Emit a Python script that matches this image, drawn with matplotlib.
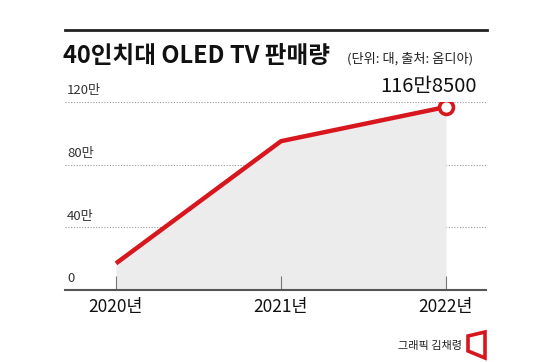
import matplotlib
matplotlib.use("Agg")
import matplotlib.pyplot as plt
from matplotlib.lines import Line2D
from matplotlib.patches import Polygon

plt.rcParams["font.family"] = ["Noto Sans CJK KR", "DejaVu Sans"]

# 데이터 (단위: 만 대)
years = ["2020년", "2021년", "2022년"]
sales = [17.0, 95.0, 116.85]
yticks = [0, 40, 80, 120]
ytick_labels = ["0", "40만", "80만", "120만"]
last_label = "116만8500"

W, H = 550, 362
fig = plt.figure(figsize=(W / 100, H / 100), dpi=100)
fig.patch.set_facecolor("white")

# 축 위치 (픽셀 기준)
left, right, bottom, top = 65, 486, 290, 102
ax = fig.add_axes([left / W, 1 - bottom / H, (right - left) / W, (bottom - top) / H])
x = list(range(len(years)))
ax.set_xlim(-0.309, 2.242)
ax.set_ylim(0, 120)
ax.set_facecolor("none")

red = "#d7161e"
ax.fill_between(x, sales, 0, color="#ececec", lw=0, zorder=1)
for v in yticks[1:]:
    ax.axhline(v, color="#9a9a9a", lw=0.8, ls=(0, (1, 1.5)), zorder=0)
ax.plot(x, sales, color=red, lw=3.2, solid_capstyle="butt", zorder=3)
ax.plot(x[-1], sales[-1], "o", ms=10, mfc="white", mec=red, mew=2.6, zorder=4)
ax.annotate(last_label, (x[-1], sales[-1]), xytext=(-13, 7), textcoords="offset points",
            ha="center", va="bottom", fontsize=14.5, fontweight="medium", color="#111")

for v, lab in zip(yticks, ytick_labels):
    ax.text(0.005, v + 3.0, lab, transform=ax.get_yaxis_transform(), ha="left", va="bottom",
            fontsize=9.5, color="#333")

for s in ["top", "right", "left"]:
    ax.spines[s].set_visible(False)
ax.spines["bottom"].set_color("#555")
ax.spines["bottom"].set_linewidth(1.5)
ax.set_yticks([])
ax.set_xticks(x)
ax.set_xticklabels(years, fontsize=12.5, color="#111")
ax.tick_params(axis="x", direction="in", length=10, width=0.8, color="#777", pad=6)

# 상단 제목
fig.add_artist(Line2D([65 / W, 487 / W], [1 - 30 / H, 1 - 30 / H], color="#222", lw=2))
fig.text(63 / W, 1 - 56 / H, "40인치대 OLED TV 판매량", fontsize=17, fontweight="heavy",
         color="#111", ha="left", va="center")
fig.text(347 / W, 1 - 59 / H, "(단위: 대, 출처: 옴디아)", fontsize=9.5, color="#222",
         ha="left", va="center")

# 크레딧 + 로고
fig.text(462 / W, 1 - 346 / H, "그래픽 김채령", fontsize=8, color="#222", ha="right", va="center")
logo = [(468, 336), (485, 332), (485, 358), (468, 351)]
fig.add_artist(Polygon([(px / W, 1 - py / H) for px, py in logo], closed=True, fill=False,
                       ec=red, lw=2.6, joinstyle="miter", transform=fig.transFigure))

fig.savefig("out.png", dpi=100)
